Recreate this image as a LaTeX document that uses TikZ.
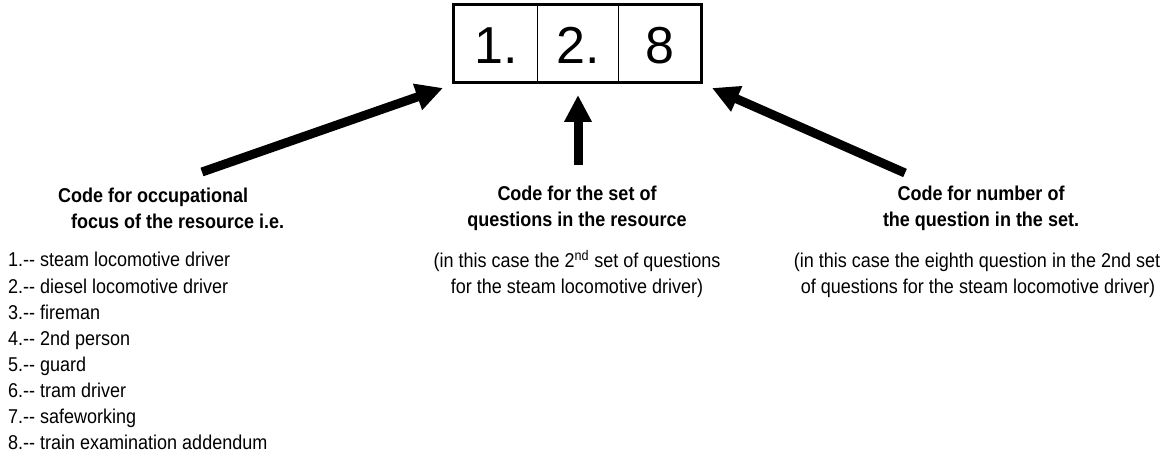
\documentclass[tikz,border=0pt]{standalone}
\usepackage{fontspec}
\setmainfont{Liberation Sans}[FakeStretch=0.9]
\newfontfamily\digitfont{Liberation Sans}
\usetikzlibrary{arrows.meta}
\tikzset{
  txt/.style={inner sep=0pt, font=\fontsize{20}{26}\selectfont},
  boldtxt/.style={txt, font=\fontsize{20}{26}\selectfont\bfseries},
  cell/.style={draw, line width=1.7pt, minimum width=#1, minimum height=77pt, inner sep=0pt,
    text height=41pt, text depth=0pt, font=\digitfont\fontsize{52}{52}\selectfont},
  bigarrow/.style={line width=9pt, -{Triangle[length=27pt,width=26pt]}}
}
\begin{document}
\begin{tikzpicture}[x=1pt,y=-1pt]
\useasboundingbox (0,0) rectangle (1173,457);
% code box
\node[cell=83pt] (c1) at (496,43.5) {1.};
\node[cell=81pt] (c2) at (578,43.5) {2.};
\node[cell=82pt] (c3) at (659.5,43.5) {8};
\draw[line width=3pt] (c1.north west) rectangle (c3.south east);
% left block
\node[boldtxt, anchor=base west] (h1a) at (58,203) {Code for occupational};
\node[boldtxt, anchor=base west] (h1b) at (71,229) {focus of the resource i.e.};
\foreach \i/\t in {1/steam locomotive driver,2/diesel locomotive driver,3/fireman,4/2nd person,5/guard,6/tram driver,7/safeworking,8/train examination addendum}
  \node[txt, anchor=base west] (l\i) at (8,{267+26*(\i-1)}) {\i.{-}{-} \t};
% middle block
\node[boldtxt, anchor=base] (h2a) at (577,201) {Code for the set of};
\node[boldtxt, anchor=base] (h2b) at (577,227) {questions in the resource};
\node[txt, anchor=base] (p2a) at (577,268) {(in this case the 2\textsuperscript{nd} set of questions};
\node[txt, anchor=base] (p2b) at (577,293) {for the steam locomotive driver)};
% right block
\node[boldtxt, anchor=base] (h3a) at (981,201) {Code for number of};
\node[boldtxt, anchor=base] (h3b) at (981,227) {the question in the set.};
\node[txt, anchor=base] (p3a) at (977,268) {(in this case the eighth question in the 2nd set};
\node[txt, anchor=base] (p3b) at (978,293) {of questions for the steam locomotive driver)};
% arrows
\coordinate (t1) at (202,172);
\coordinate (e1) at (443,88);
\coordinate (t2) at (578,165);
\coordinate (e2) at (578,95);
\coordinate (t3) at (905,173);
\coordinate (e3) at (712,88);
\draw[bigarrow] (t1) -- (e1);
\draw[bigarrow] (t2) -- (e2);
\draw[bigarrow] (t3) -- (e3);
\end{tikzpicture}
\end{document}
